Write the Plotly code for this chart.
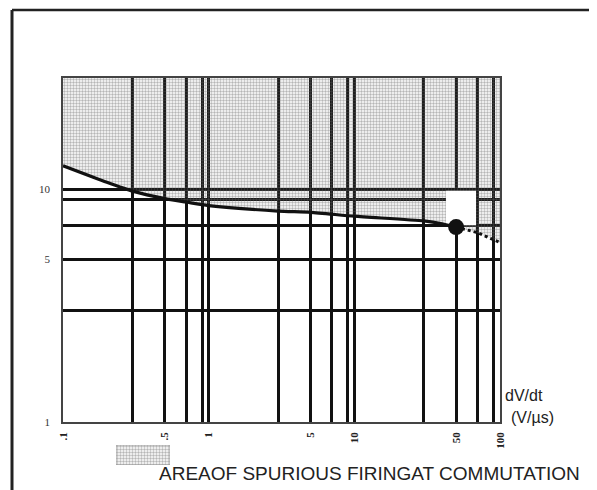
import plotly.graph_objects as go

# ---- data ----
curve_x = [0.1, 0.2, 0.3, 0.5, 0.7, 1, 3, 5, 10, 30, 40, 50]
curve_y = [12.6, 10.7, 9.8, 9.1, 8.8, 8.5, 8.05, 7.95, 7.65, 7.3, 7.1, 6.87]
ext_x = [50, 70, 100]
ext_y = [6.87, 6.5, 5.9]
point_c_x = [50]
point_c_y = [6.87]

x_grid_vals = [0.1, 0.3, 0.5, 0.7, 0.9, 1, 3, 5, 7, 9, 10, 30, 50, 70, 90, 100]
x_tick_text = [".1", "", ".5", "", "", "1", "", "5", "", "", "10", "", "50", "", "", "100"]
y_grid_vals = [1, 3, 5, 7, 9, 10]
y_tick_text = ["1", "", "5", "", "", "10"]
y_max = 30

OFF = 8  # page body margin
W, H = 597 - OFF, 490 - OFF
L, R, T, B = 63, 500, 78, 422  # plot area in page pixels

def px_x(p):
    return (p - OFF) / W

def px_y(p):
    return (H - (p - OFF)) / H

PATTERN = dict(shape=".", size=3, solidity=0.5, fgcolor="#6e6e6e", bgcolor="rgba(0,0,0,0)")

fig = go.Figure()

all_x = curve_x + ext_x[1:]
all_y = curve_y + ext_y[1:]

# top boundary of shaded area
fig.add_trace(go.Scatter(x=[all_x[0], all_x[-1]], y=[y_max, y_max], mode="lines",
                         line=dict(width=0), hoverinfo="skip", showlegend=False))
# shaded area (spurious firing)
fig.add_trace(go.Scatter(x=all_x, y=all_y, mode="lines", line=dict(width=0),
                         fill="tonexty", fillcolor="rgba(0,0,0,0)", fillpattern=PATTERN,
                         hoverinfo="skip", showlegend=False))
# white box around the "C" label
box_x0, box_x1, box_y0, box_y1 = 42.6, 68.5, 7.0, 9.85
fig.add_trace(go.Scatter(x=[box_x0, box_x1, box_x1, box_x0, box_x0],
                         y=[box_y0, box_y0, box_y1, box_y1, box_y0],
                         mode="lines", line=dict(width=0), fill="toself", fillcolor="white",
                         hoverinfo="skip", showlegend=False))
# curve
fig.add_trace(go.Scatter(x=curve_x, y=curve_y, mode="lines",
                         line=dict(color="#111", width=3.2, shape="spline", smoothing=0.6),
                         showlegend=False))
fig.add_trace(go.Scatter(x=ext_x, y=ext_y, mode="lines",
                         line=dict(color="#111", width=3, dash="dot"), showlegend=False))
fig.add_trace(go.Scatter(x=point_c_x, y=point_c_y, mode="markers",
                         marker=dict(color="#111", size=16), showlegend=False))

# legend swatch
fig.add_trace(go.Bar(x=[0], y=[1], width=[1], xaxis="x2", yaxis="y2",
                     marker=dict(color="rgba(0,0,0,0)", pattern=PATTERN,
                                 line=dict(color="#999", width=1)),
                     showlegend=False, hoverinfo="skip"))

fig.update_layout(
    width=W, height=H,
    margin=dict(l=0, r=0, t=0, b=0),
    paper_bgcolor="white", plot_bgcolor="white",
    xaxis=dict(type="log", range=[-1, 2], domain=[px_x(L), px_x(R)], automargin=False,
               tickvals=x_grid_vals, ticktext=x_tick_text, tickangle=-90,
               tickfont=dict(family="Liberation Serif", size=11, color="#222", weight="bold"),
               ticks="", ticklabelstandoff=4,
               showgrid=True, gridcolor="#111", gridwidth=2.5,
               showline=True, linecolor="#444", linewidth=1.5, mirror=True, zeroline=False),
    yaxis=dict(type="log", range=[0, 1.4771], domain=[px_y(B), px_y(T)], automargin=False,
               tickvals=y_grid_vals, ticktext=y_tick_text,
               tickfont=dict(family="Liberation Serif", size=11, color="#333"),
               ticks="", ticklabelstandoff=9,
               showgrid=True, gridcolor="#111", gridwidth=2.5,
               showline=True, linecolor="#444", linewidth=1.5, mirror=True, zeroline=False),
    xaxis2=dict(domain=[px_x(116), px_x(170)], range=[-0.5, 0.5], anchor="y2", visible=False,
                fixedrange=True),
    yaxis2=dict(domain=[px_y(465), px_y(445)], range=[0, 1], anchor="x2", visible=False,
                fixedrange=True),
    showlegend=False,
)

# outer frame
fig.add_shape(type="line", xref="paper", yref="paper", x0=px_x(12), x1=px_x(12),
              y0=px_y(10), y1=0, line=dict(color="#222", width=3))
fig.add_shape(type="line", xref="paper", yref="paper", x0=px_x(12), x1=px_x(596),
              y0=px_y(10), y1=px_y(10), line=dict(color="#222", width=2.5))
fig.add_shape(type="line", xref="paper", yref="paper", x0=px_x(596), x1=px_x(596),
              y0=px_y(10), y1=px_y(40), line=dict(color="#222", width=2))
fig.add_shape(type="line", xref="paper", yref="paper", x0=px_x(596), x1=px_x(596),
              y0=px_y(40), y1=0, line=dict(color="#aaa", width=1))

# annotations
fig.add_annotation(x=52, y=8.7, xref="x", yref="y", text="C", showarrow=False,
                   font=dict(family="Liberation Serif", size=13, color="#222"))
fig.add_annotation(x=px_x(503), y=px_y(395), xref="paper", yref="paper", text="dV/dt",
                   showarrow=False, xanchor="left", yanchor="middle",
                   font=dict(family="Liberation Sans", size=16, color="#222"))
fig.add_annotation(x=px_x(509), y=px_y(417), xref="paper", yref="paper", text="(V/µs)",
                   showarrow=False, xanchor="left", yanchor="middle",
                   font=dict(family="Liberation Sans", size=16, color="#222"))
fig.add_annotation(x=px_x(157), y=px_y(473), xref="paper", yref="paper",
                   text="AREAOF SPURIOUS FIRINGAT COMMUTATION",
                   showarrow=False, xanchor="left", yanchor="middle",
                   font=dict(family="Liberation Sans", size=19, color="#222"))

fig.write_html("out.html")
